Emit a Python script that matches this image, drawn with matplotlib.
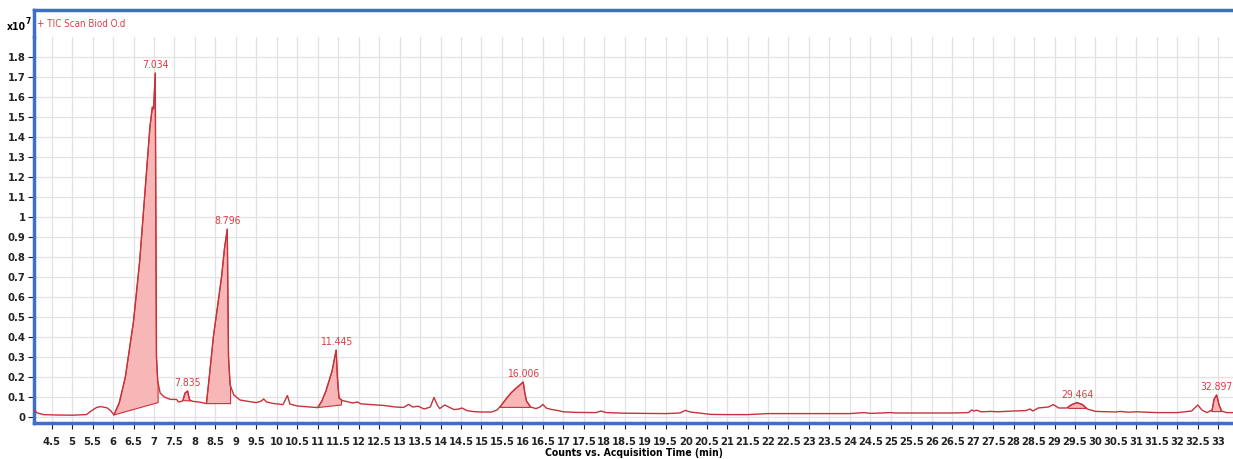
import numpy as np
import matplotlib
matplotlib.use("Agg")
import matplotlib.pyplot as plt
from matplotlib.lines import Line2D

plt.rcParams['font.family'] = ['DejaVu Sans']
plt.rcParams['font.stretch'] = 'condensed'

# TIC trace (time in min, counts in 1e7)
times = [4.07, 4.15, 4.3, 4.6, 5.0, 5.35, 5.43, 5.5, 5.6, 5.7, 5.85, 5.95, 6.02,
         6.15, 6.3, 6.5, 6.65, 6.8, 6.9, 6.96, 6.99, 7.03, 7.06, 7.09, 7.15, 7.25,
         7.4, 7.55, 7.6, 7.7, 7.76, 7.82, 7.87, 7.95, 8.1, 8.28, 8.35, 8.45, 8.55,
         8.65, 8.72, 8.79, 8.82, 8.86, 8.95, 9.1, 9.3, 9.5, 9.62, 9.68, 9.75, 9.9,
         10.15, 10.22, 10.26, 10.32, 10.5, 10.8, 11.0, 11.1, 11.2, 11.35, 11.45,
         11.48, 11.52, 11.6, 11.7, 11.85, 11.97, 12.05, 12.3, 12.6, 12.9, 13.1,
         13.22, 13.32, 13.45, 13.6, 13.75, 13.84, 13.92, 13.98, 14.1, 14.2, 14.33,
         14.45, 14.52, 14.65, 14.8, 15.0, 15.25, 15.38, 15.47, 15.6, 15.72, 15.85,
         15.95, 16.02, 16.06, 16.1, 16.2, 16.33, 16.43, 16.5, 16.58, 16.7, 16.85,
         17.0, 17.3, 17.8, 17.92, 18.05, 18.5, 19.0, 19.5, 19.85, 19.98, 20.1,
         20.3, 20.6, 21.0, 21.5, 22.0, 22.5, 23.0, 23.5, 24.0, 24.35, 24.5, 25.0,
         25.1, 25.8, 26.5, 26.9, 26.97, 27.03, 27.1, 27.2, 27.45, 27.6, 28.0, 28.3,
         28.4, 28.47, 28.6, 28.75, 28.85, 28.97, 29.1, 29.3, 29.42, 29.55, 29.68,
         29.8, 30.0, 30.5, 30.6, 30.8, 31.0, 31.5, 32.0, 32.35, 32.5, 32.6, 32.72,
         32.85, 32.9, 32.96, 33.02, 33.08, 33.2, 33.37]
counts = [0.035, 0.02, 0.012, 0.01, 0.009, 0.012, 0.025, 0.035, 0.048, 0.052, 0.046,
          0.03, 0.01, 0.07, 0.2, 0.48, 0.78, 1.18, 1.45, 1.55, 1.54, 1.72, 0.3, 0.18,
          0.12, 0.1, 0.088, 0.088, 0.075, 0.08, 0.12, 0.13, 0.085, 0.078, 0.075,
          0.067, 0.2, 0.4, 0.55, 0.7, 0.84, 0.94, 0.3, 0.16, 0.11, 0.085, 0.078,
          0.072, 0.08, 0.09, 0.075, 0.068, 0.062, 0.09, 0.107, 0.065, 0.055, 0.05,
          0.047, 0.08, 0.13, 0.23, 0.335, 0.2, 0.095, 0.082, 0.078, 0.07, 0.075,
          0.066, 0.062, 0.058, 0.05, 0.048, 0.063, 0.05, 0.054, 0.04, 0.05, 0.098,
          0.06, 0.042, 0.06, 0.05, 0.037, 0.04, 0.045, 0.032, 0.027, 0.025, 0.025,
          0.035, 0.055, 0.09, 0.12, 0.145, 0.162, 0.175, 0.12, 0.08, 0.05, 0.042,
          0.05, 0.063, 0.045, 0.038, 0.033, 0.026, 0.023, 0.022, 0.03, 0.022, 0.019,
          0.018, 0.017, 0.02, 0.033, 0.025, 0.02, 0.013, 0.012, 0.012, 0.017, 0.017,
          0.017, 0.017, 0.017, 0.022, 0.018, 0.022, 0.02, 0.02, 0.02, 0.022, 0.035,
          0.03, 0.034, 0.026, 0.028, 0.026, 0.03, 0.032, 0.04, 0.03, 0.045, 0.048,
          0.05, 0.062, 0.045, 0.045, 0.062, 0.072, 0.062, 0.04, 0.028, 0.025, 0.028,
          0.024, 0.026, 0.022, 0.022, 0.03, 0.06, 0.035, 0.022, 0.035, 0.09, 0.11,
          0.06, 0.03, 0.022, 0.022]

# integrated peaks: label, start/end time, baseline counts at start/end
peak_labels = ['7.034', '7.835', '8.796', '11.445', '16.006', '29.464', '32.897']
peak_start = [6.02, 7.72, 8.28, 11.0, 15.45, 29.34, 32.84]
peak_end = [7.1, 7.9, 8.87, 11.58, 16.19, 29.79, 33.08]
base_start = [0.01, 0.082, 0.067, 0.047, 0.048, 0.043, 0.027]
base_end = [0.072, 0.08, 0.067, 0.06, 0.048, 0.043, 0.027]

line_red = '#c8323a'
text_red = '#e03a44'
fill_pink = '#f8b7b7'
frame_blue = '#3d6fc8'

W, H = 1233, 459
fig = plt.figure(figsize=(W / 100, H / 100), dpi=100)
ax = fig.add_axes([34 / W, (H - 423) / H, (W - 34) / W, (423 - 37) / H])

t = np.array(times)
c = np.array(counts)

for lab, a, b, ba, bb in zip(peak_labels, peak_start, peak_end, base_start, base_end):
    inside = (t > a) & (t < b)
    xs = np.concatenate([[a], t[inside], [b]])
    ys = np.concatenate([[np.interp(a, t, c)], c[inside], [np.interp(b, t, c)]])
    poly_x = np.concatenate([xs, [b, a]])
    poly_y = np.concatenate([ys, [bb, ba]])
    ax.fill(poly_x, poly_y, facecolor=fill_pink, edgecolor=line_red, lw=0.8, zorder=2)
    k = np.argmax(ys)
    ax.annotate(lab, xy=(xs[k], ys[k]), xytext=(0, 2), textcoords='offset points',
                ha='center', va='bottom', color=text_red, fontsize=7.5, zorder=4)

ax.plot(t, c, color=line_red, lw=1.0, zorder=3)

ax.set_xlim(4.068, 33.36)
ax.set_ylim(-0.03, 1.9)
ax.set_xticks(np.arange(4.5, 33.01, 0.5))
ax.set_xticklabels(['%g' % v for v in np.arange(4.5, 33.01, 0.5)])
ax.set_yticks(np.arange(0, 1.81, 0.1))
ax.set_yticklabels(['%g' % round(v, 1) for v in np.arange(0, 1.81, 0.1)])
ax.grid(True, color='#e2e2e2', lw=0.9)
ax.set_axisbelow(True)
ax.tick_params(axis='both', labelsize=8, colors='#222222', length=4, width=0.8)
for lbl in ax.get_xticklabels() + ax.get_yticklabels():
    lbl.set_fontweight('bold')
ax.tick_params(axis='x', pad=6)
ax.tick_params(axis='y', pad=2)

for s in ['top', 'right']:
    ax.spines[s].set_visible(False)
for s in ['left', 'bottom']:
    ax.spines[s].set_color(frame_blue)
    ax.spines[s].set_linewidth(2.5)

ax.set_xlabel('Counts vs. Acquisition Time (min)', fontsize=7.5, fontweight='bold', labelpad=1)

# frame around the title strip
fig.add_artist(Line2D([34 / W, 1.01], [(H - 10) / H] * 2, color=frame_blue, lw=2.5,
                      transform=fig.transFigure))
fig.add_artist(Line2D([34 / W] * 2, [(H - 10) / H, (H - 37) / H], color=frame_blue, lw=2.5,
                      transform=fig.transFigure))
fig.text(37 / W, (H - 24) / H, '+ TIC Scan Biod O.d', color=text_red, fontsize=7, va='center')
fig.text(7 / W, (H - 27) / H, 'x10', fontsize=7.5, fontweight='bold', va='center')
fig.text(26 / W, (H - 21) / H, '7', fontsize=6, fontweight='bold', va='center')

fig.savefig('out.png', dpi=100)
